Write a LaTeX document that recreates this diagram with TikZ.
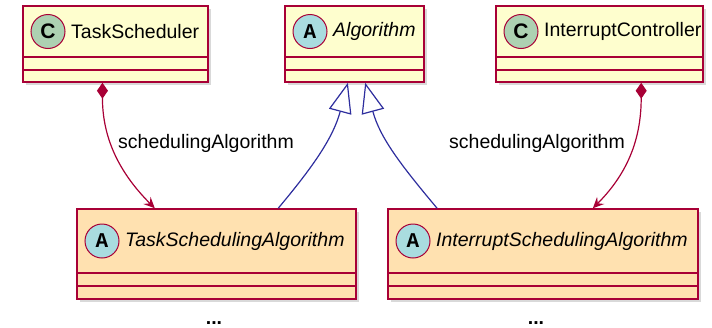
\documentclass[tikz,border=0pt]{standalone}
\usepackage{fontspec}
\setmainfont{Liberation Sans}
\newfontfamily\letterfont{Liberation Mono}
\usetikzlibrary{fit, shapes, arrows.meta, shadows, calc}

\definecolor{umlred}{HTML}{A80036}
\definecolor{umlfill}{HTML}{FEFECE}
\definecolor{umlabs}{HTML}{FFE1B0}
\definecolor{umlcirc}{HTML}{ADD1B2}
\definecolor{umlabscirc}{HTML}{A9DCDF}
\definecolor{umlblue}{HTML}{2E2E9E}

\tikzset{
	classbox/.style={draw=umlred, line width=1.5pt, inner sep=0pt, drop shadow={shadow xshift=3pt, shadow yshift=-3pt, opacity=0.3}},
	sepline/.style={draw=umlred, line width=1.5pt},
	letterbox/.style={circle, draw=umlred, line width=1pt, minimum size=34pt, inner sep=0pt, font=\fontsize{21}{21}\selectfont\bfseries},
	titlebox/.style={anchor=west, inner sep=0pt, font=\fontsize{19.5}{22}\selectfont},
	comp/.style={draw=umlred, line width=1.2pt, {Diamond[length=16pt,width=11pt]}-{Stealth[length=11pt,width=10pt,inset=4pt]}},
	gen/.style={draw=umlblue, line width=1.2pt, -{Triangle[open,length=30pt,width=23pt,fill=white]}},
	lbl/.style={inner sep=0pt, font=\fontsize{19.5}{22}\selectfont}
}

\begin{document}
\begin{tikzpicture}[x=1pt, y=-1pt]
	\useasboundingbox (0,0) rectangle (712,327);
	\foreach[count=\i] \nm/\xa/\ya/\xb/\yh/\yb/\bg/\cc/\ltr/\ttl in {
		ts/23/6/208/57/82/umlfill/umlcirc/C/TaskScheduler,
		alg/285/6/424/57/82/umlfill/umlabscirc/{\letterfont A}/{\itshape Algorithm},
		ic/496/6/703/57/82/umlfill/umlcirc/C/InterruptController,
		tsa/77/209/356/273/299/umlabs/umlabscirc/{\letterfont A}/{\itshape TaskSchedulingAlgorithm},
		isa/388/209/698/273/299/umlabs/umlabscirc/{\letterfont A}/{\itshape InterruptSchedulingAlgorithm}} {
		\node[classbox, fill=\bg, fit={(\xa,\ya) (\xb,\yb)}] (\nm) {};
		\draw[sepline] (\xa,\yh) -- (\xb,\yh) (\xa,\yh+13) -- (\xb,\yh+13);
		\node[letterbox, fill=\cc] (\nm-c) at (\xa+25,{(\ya+\yh)/2}) {\ltr};
		\node[titlebox] (\nm-t) at (\xa+48,{(\ya+\yh)/2}) {\ttl};
	}
	\draw[comp] ($(ts.south west)!0.43!(ts.south east)$) to[out=-90, in=135] ($(tsa.north west)!0.28!(tsa.north east)$);
	\draw[comp] ($(ic.south west)!0.70!(ic.south east)$) to[out=-90, in=45] ($(isa.north west)!0.66!(isa.north east)$);
	\draw[gen] ($(tsa.north west)!0.72!(tsa.north east)$) to[out=50, in=-105] ($(alg.south west)!0.453!(alg.south east)$);
	\draw[gen] ($(isa.north west)!0.16!(isa.north east)$) to[out=130, in=-75] ($(alg.south west)!0.576!(alg.south east)$);
	\node[lbl] (ts-lbl) at (206,143) {schedulingAlgorithm};
	\node[lbl] (ic-lbl) at (537,143) {schedulingAlgorithm};
	\node[anchor=base, font=\fontsize{19.5}{22}\selectfont\bfseries] (tsa-more) at (214,324) {...};
	\node[anchor=base, font=\fontsize{19.5}{22}\selectfont\bfseries] (isa-more) at (536,324) {...};
\end{tikzpicture}
\end{document}
